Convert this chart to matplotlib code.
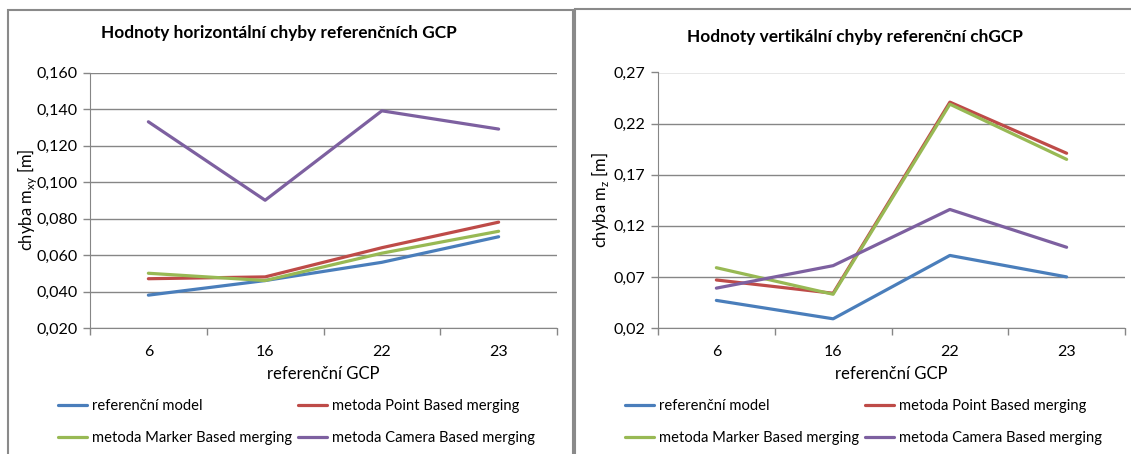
import numpy as np
import matplotlib.pyplot as plt
from matplotlib.patches import Rectangle

plt.rcParams['font.family'] = ['Lato', 'DejaVu Sans']

# data
gcp = ['6', '16', '22', '23']
series_names = ['referenční model', 'metoda Point Based merging',
                'metoda Marker Based merging', 'metoda Camera Based merging']
colors = ['#4A7EBB', '#BE4B48', '#98B954', '#7D60A0']

mxy_ref = [0.038, 0.046, 0.056, 0.070]
mxy_point = [0.047, 0.048, 0.064, 0.078]
mxy_marker = [0.050, 0.046, 0.061, 0.073]
mxy_camera = [0.133, 0.090, 0.139, 0.129]

mz_ref = [0.047, 0.029, 0.091, 0.070]
mz_point = [0.067, 0.054, 0.241, 0.191]
mz_marker = [0.079, 0.053, 0.239, 0.185]
mz_camera = [0.059, 0.081, 0.136, 0.099]

W, H = 1131, 454
fig = plt.figure(figsize=(W / 100, H / 100), dpi=100)

# panel frames (Excel chart borders)
fig.add_artist(Rectangle((8 / W, -0.1), (573 - 8) / W, (H - 10) / H + 0.1,
                         transform=fig.transFigure, fill=False,
                         edgecolor='#8a8a8a', lw=1.5))
fig.add_artist(Rectangle((575 / W, -0.1), 0.6, (H - 9) / H + 0.1,
                         transform=fig.transFigure, fill=False,
                         edgecolor='#8a8a8a', lw=1.5))


def draw(ax, data, yticks, fmt, ylabel, ylabel_x, title, title_xy, leg_x):
    x = np.arange(len(gcp)) + 0.5
    lines = []
    for vals, name, c in zip(data, series_names, colors):
        ln, = ax.plot(x, vals, color=c, lw=2.3, label=name, solid_capstyle='round')
        lines.append(ln)
    ax.set_xlim(0, len(gcp))
    ax.set_ylim(yticks[0], yticks[-1])
    ax.set_yticks(yticks)
    ax.set_yticklabels([fmt(v).replace('.', ',') for v in yticks])
    ax.set_xticks(np.arange(len(gcp) + 1))
    ax.set_xticklabels([])
    ax.set_xticks(x, minor=True)
    ax.set_xticklabels(gcp, minor=True)
    ax.tick_params(axis='x', which='minor', length=0, pad=12, labelsize=11.5)
    ax.tick_params(axis='x', which='major', length=5, color='#868686', width=1)
    ax.tick_params(axis='y', length=5, color='#868686', width=1, labelsize=11.5, pad=4)
    ax.grid(axis='y', color='#868686', lw=1)
    ax.set_axisbelow(True)
    for s in ['top', 'right']:
        ax.spines[s].set_visible(False)
    for s in ['left', 'bottom']:
        ax.spines[s].set_color('#868686')
    ax.set_xlabel('referenční GCP', fontsize=12, labelpad=5)
    ax.set_ylabel(ylabel, fontsize=12, va='center')
    ax.yaxis.set_label_coords(ylabel_x, 0.5)
    fig.text(title_xy[0] / W, 1 - title_xy[1] / H, title, fontsize=12.4,
             fontweight='bold', ha='center', va='center')
    # row-wise order like Excel: ref, point / marker, camera
    order = [0, 2, 1, 3]
    ax.legend([lines[i] for i in order], [series_names[i] for i in order],
              loc='upper left', bbox_to_anchor=(leg_x / W, 1 - 399 / H),
              bbox_transform=fig.transFigure, ncol=2, frameon=False,
              fontsize=10.6, handlelength=1.95, handletextpad=0.33,
              columnspacing=0.45, labelspacing=1.25, borderpad=0,
              borderaxespad=0)


ax1 = fig.add_axes([90 / W, 1 - 328 / H, 467 / W, 255.5 / H])
draw(ax1, [mxy_ref, mxy_point, mxy_marker, mxy_camera],
     np.round(np.arange(0.02, 0.1601, 0.02), 3), lambda v: f'{v:.3f}',
     r'chyba m$_{\mathregular{xy}}$ [m]', -0.135,
     'Hodnoty horizontální chyby referenčních GCP', (279, 33), 58)

ax2 = fig.add_axes([658 / W, 1 - 328 / H, 467 / W, 255.5 / H])
draw(ax2, [mz_ref, mz_point, mz_marker, mz_camera],
     np.round(np.arange(0.02, 0.2701, 0.05), 2), lambda v: f'{v:.2f}',
     r'chyba m$_{\mathregular{z}}$ [m]', -0.124,
     'Hodnoty vertikální chyby referenční chGCP', (855, 37), 625)

fig.savefig('out.png', dpi=100)
